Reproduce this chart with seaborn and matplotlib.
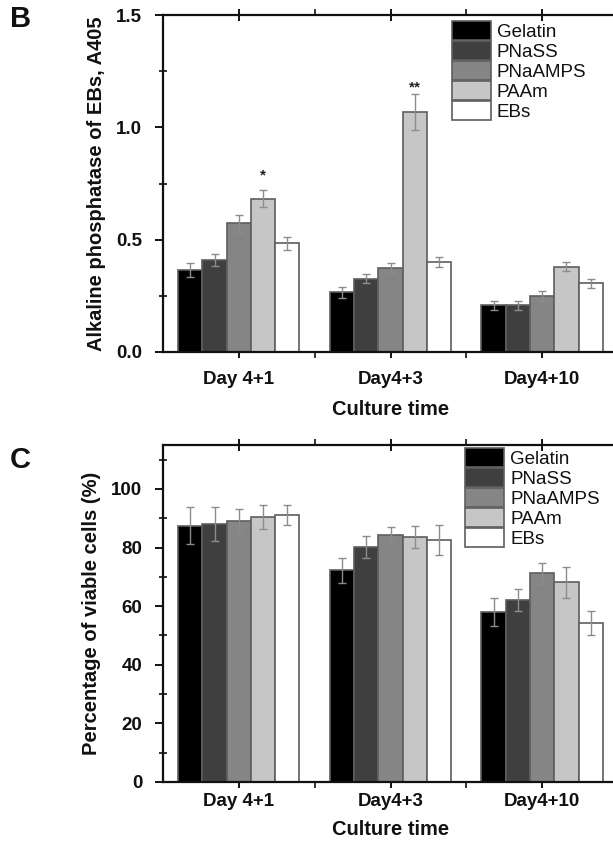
import matplotlib
matplotlib.use("Agg")
import matplotlib.pyplot as plt
from matplotlib.ticker import MultipleLocator, FixedLocator, FormatStrFormatter
from matplotlib.patches import Patch
import seaborn as sns
import pandas as pd

# ---------------- data ----------------
days = ["Day 4+1", "Day4+3", "Day4+10"]
materials = ["Gelatin", "PNaSS", "PNaAMPS", "PAAm", "EBs"]
colors = ["#000000", "#3f3f3f", "#858585", "#c6c6c6", "#ffffff"]

# Panel B: alkaline phosphatase (A405), per material across days
alp_gelatin = [0.365, 0.266, 0.207]
alp_pnass = [0.410, 0.327, 0.207]
alp_pnaamps = [0.573, 0.375, 0.248]
alp_paam = [0.682, 1.068, 0.379]
alp_ebs = [0.484, 0.402, 0.305]
alp_err_gelatin = [0.030, 0.024, 0.020]
alp_err_pnass = [0.028, 0.022, 0.020]
alp_err_pnaamps = [0.037, 0.020, 0.022]
alp_err_paam = [0.037, 0.080, 0.020]
alp_err_ebs = [0.030, 0.022, 0.022]

# Panel C: viable cells (%)
via_gelatin = [87.5, 72.2, 58.0]
via_pnass = [88.2, 80.1, 62.1]
via_pnaamps = [89.1, 84.2, 71.2]
via_paam = [90.5, 83.5, 68.1]
via_ebs = [91.2, 82.6, 54.3]
via_err_gelatin = [6.2, 4.3, 4.7]
via_err_pnass = [5.8, 3.8, 3.8]
via_err_pnaamps = [4.2, 2.7, 3.7]
via_err_paam = [4.0, 3.7, 5.3]
via_err_ebs = [3.4, 5.2, 4.2]

# significance marks (day, material, mark)
sig_marks = [("Day 4+1", "PAAm", "*"), ("Day4+3", "PAAm", "**")]


def long_df(vals, errs):
    rows = []
    for m, v, e in zip(materials, vals, errs):
        for d, vv, ee in zip(days, v, e):
            rows.append({"day": d, "material": m, "value": vv, "err": ee})
    return pd.DataFrame(rows)


df_b = long_df([alp_gelatin, alp_pnass, alp_pnaamps, alp_paam, alp_ebs],
               [alp_err_gelatin, alp_err_pnass, alp_err_pnaamps, alp_err_paam, alp_err_ebs])
df_c = long_df([via_gelatin, via_pnass, via_pnaamps, via_paam, via_ebs],
               [via_err_gelatin, via_err_pnass, via_err_pnaamps, via_err_paam, via_err_ebs])

# ---------------- style ----------------
sns.set_theme(style="ticks")
plt.rcParams["font.family"] = ["Liberation Sans", "DejaVu Sans"]

W, H = 613, 848
fig = plt.figure(figsize=(W / 100, H / 100), dpi=100)


def px_axes(left, top, right, bottom):
    return fig.add_axes([left / W, 1 - bottom / H, (right - left) / W, (bottom - top) / H])


ax_b = px_axes(163, 15, 618, 352)
ax_c = px_axes(163, 445, 618, 782)

EDGE = "#5e5e5e"
ERRC = "#8c8c8c"
TXT = "#111111"


def draw(ax, df, ylim, major, minor, ylabel, yfmt, legend_xy, xpad, xlabpad,
         stars=None, star_offsets=None):
    sns.barplot(data=df, x="day", y="value", hue="material", order=days,
                hue_order=materials, palette=colors, errorbar=None,
                edgecolor=EDGE, linewidth=1.2, width=0.8, legend=False, ax=ax)
    # error bars on top of the seaborn bars
    for cont, m in zip(ax.containers, materials):
        sub = df[df["material"] == m].set_index("day").loc[days]
        xs = [p.get_x() + p.get_width() / 2 for p in cont.patches]
        ax.errorbar(xs, sub["value"].values, yerr=sub["err"].values, fmt="none",
                    ecolor=ERRC, elinewidth=1.0, capsize=2.6, capthick=1.0, zorder=5)
    if stars:
        for (d, m, s), off in zip(stars, star_offsets):
            ci = materials.index(m)
            p = ax.containers[ci].patches[days.index(d)]
            row = df[(df["day"] == d) & (df["material"] == m)].iloc[0]
            ax.annotate(s, (p.get_x() + p.get_width() / 2, row["value"] + row["err"]),
                        xytext=(0, off), textcoords="offset points", ha="center",
                        va="center", fontsize=11, fontweight="bold", color="#222222")

    ax.set_xlim(-0.5, 2.5)
    ax.set_ylim(*ylim)
    ax.yaxis.set_major_locator(MultipleLocator(major))
    ax.yaxis.set_minor_locator(MultipleLocator(minor))
    ax.xaxis.set_minor_locator(FixedLocator([0.5, 1.5]))
    ax.yaxis.set_major_formatter(yfmt)

    for s in ax.spines.values():
        s.set_visible(True)
        s.set_linewidth(1.6)
        s.set_color(TXT)

    ax.tick_params(axis="y", which="major", direction="out", length=6, width=1.4,
                   labelsize=13.5, pad=9, right=True, colors=TXT)
    ax.tick_params(axis="y", which="minor", direction="inout", length=6, width=1.2,
                   right=True, colors=TXT)
    ax.tick_params(axis="x", which="major", direction="inout", length=8, width=1.4,
                   labelsize=13.5, pad=xpad, top=True, colors=TXT)
    ax.tick_params(axis="x", which="minor", direction="out", length=4, width=1.2,
                   top=True, colors=TXT)
    for lab in ax.get_xticklabels() + ax.get_yticklabels():
        lab.set_fontweight("bold")

    ax.set_xlabel("Culture time", fontsize=14.5, fontweight="bold", labelpad=xlabpad,
                  color=TXT)
    ax.set_ylabel(ylabel, fontsize=14.5, fontweight="bold", labelpad=7, color=TXT)

    handles = [Patch(facecolor=c, edgecolor=EDGE, linewidth=1.2) for c in colors]
    ax.legend(handles, materials, loc="upper left", bbox_to_anchor=legend_xy,
              frameon=False, fontsize=13.5, handlelength=2.1, handleheight=1.2,
              labelspacing=0.0, handletextpad=0.3, borderpad=0, borderaxespad=0,
              labelcolor=TXT)


draw(ax_b, df_b, (0, 1.5), 0.5, 0.25, "Alkaline phosphatase of EBs, A405",
     FormatStrFormatter("%.1f"),
     ((452 - 163) / 455, 1 - 6 / 337), xpad=10, xlabpad=8,
     stars=sig_marks, star_offsets=[11, 5])
draw(ax_c, df_c, (0, 115), 20, 10, "Percentage of viable cells (%)",
     FormatStrFormatter("%d"),
     ((465 - 163) / 455, 1 - 3 / 337), xpad=4, xlabpad=7)

fig.text(10 / W, 1 - 19 / H, "B", fontsize=21, fontweight="bold", va="center", ha="left",
         color=TXT)
fig.text(10 / W, 1 - 460 / H, "C", fontsize=21, fontweight="bold", va="center", ha="left",
         color=TXT)

fig.savefig("out.png", dpi=100)
